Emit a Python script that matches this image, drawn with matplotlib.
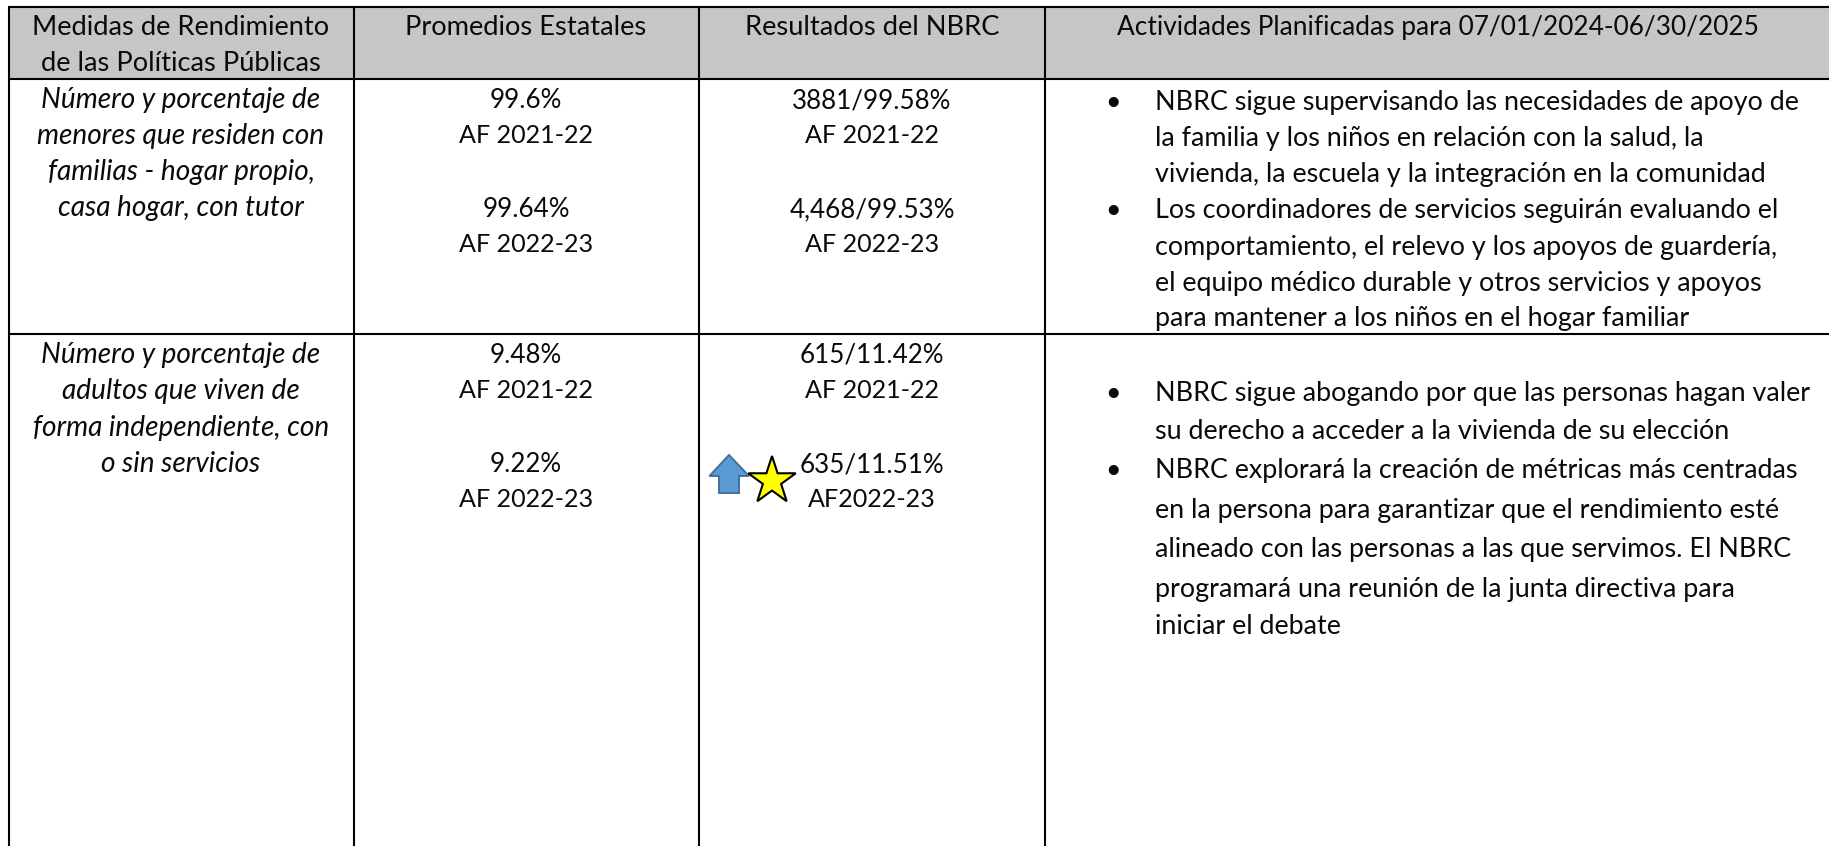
import matplotlib
matplotlib.use("Agg")
import matplotlib.pyplot as plt
from matplotlib.patches import Polygon, PathPatch, Rectangle
from matplotlib.path import Path
from matplotlib.transforms import Affine2D

W, H = 1829, 846
FONT = "Lato"
FS_HEAD = 19.6
FS_HEAD4 = 18.9
FS_ITALIC = 20.2
FS_NUM = 18.7
FS_YEAR = 18.1
FS_PLAN = 19.4

headers = [["Medidas de Rendimiento", "de las Políticas Públicas"],
           ["Promedios Estatales"], ["Resultados del NBRC"],
           ["Actividades Planificadas para 07/01/2024-06/30/2025"]]
measure_1 = ["Número y porcentaje de", "menores que residen con",
             "familias - hogar propio,", "casa hogar, con tutor"]
measure_2 = ["Número y porcentaje de", "adultos que viven de",
             "forma independiente, con", "o sin servicios"]
state_1 = ["99.6%", "AF 2021-22", "", "99.64%", "AF 2022-23"]
state_2 = ["9.48%", "AF 2021-22", "", "9.22%", "AF 2022-23"]
nbrc_1 = ["3881/99.58%", "AF 2021-22", "", "4,468/99.53%", "AF 2022-23"]
nbrc_2 = ["615/11.42%", "AF 2021-22", "", "635/11.51%", "AF2022-23"]
plan_1 = [("•", "NBRC sigue supervisando las necesidades de apoyo de"),
          ("", "la familia y los niños en relación con la salud, la"),
          ("", "vivienda, la escuela y la integración en la comunidad"),
          ("•", "Los coordinadores de servicios seguirán evaluando el"),
          ("", "comportamiento, el relevo y los apoyos de guardería,"),
          ("", "el equipo médico durable y otros servicios y apoyos"),
          ("", "para mantener a los niños en el hogar familiar")]
plan_2 = [("•", "NBRC sigue abogando por que las personas hagan valer"),
          ("", "su derecho a acceder a la vivienda de su elección"),
          ("•", "NBRC explorará la creación de métricas más centradas"),
          ("", "en la persona para garantizar que el rendimiento esté"),
          ("", "alineado con las personas a las que servimos. El NBRC"),
          ("", "programará una reunión de la junta directiva para"),
          ("", "iniciar el debate")]

fig = plt.figure(figsize=(W / 100, H / 100), dpi=100, facecolor="white")
ax = fig.add_axes([0, 0, 1, 1])
ax.set_xlim(0, W)
ax.set_ylim(H, 0)
ax.axis("off")

col_x = [9, 354, 699, 1045]
col_c = [181, 526, 872, 1438]
row_y = [7.5, 79.5, 334.5]
ax.add_patch(Rectangle((col_x[0], row_y[0]), W - col_x[0], row_y[1] - row_y[0],
                       facecolor="#C6C6C6", edgecolor="none", zorder=0))
for y in row_y:
    ax.plot([col_x[0] - 1, W], [y, y], color="black", lw=1.5, solid_capstyle="butt", zorder=1)
for x in col_x:
    ax.plot([x, x], [row_y[0], H], color="black", lw=1.5, solid_capstyle="butt", zorder=1)


def put(lines, x, ys, fs, ha="center", style="normal"):
    for s, y in zip(lines, ys):
        if s:
            ax.text(x, y, s, ha=ha, va="baseline", fontsize=fs, family=FONT,
                    style=style, color="#0A0A0A", zorder=3)


def put_cell(lines, x, ys):
    for s, y in zip(lines, ys):
        fs = FS_YEAR if s.startswith("AF") else FS_NUM
        put([s], x, [y], fs)


put(headers[0], col_c[0], [35, 71], FS_HEAD)
for i in (1, 2):
    put(headers[i], col_c[i], [35], FS_HEAD)
put(headers[3], col_c[3], [35], FS_HEAD4)

put(measure_1, col_c[0], [108, 144, 180, 216], FS_ITALIC, style="italic")
put(measure_2, col_c[0], [363, 399, 436, 472], FS_ITALIC, style="italic")
y5a = [108, 143, 180, 217, 252]
y5b = [363, 398, 435, 472, 507]
put_cell(state_1, col_c[1], y5a)
put_cell(nbrc_1, col_c[2], y5a)
put_cell(state_2, col_c[1], y5b)
put_cell(nbrc_2, col_c[2], y5b)

bullet_x, text_x = 1113, 1155
for plan, ys in ((plan_1, [110, 146, 182, 218, 255, 291, 326]),
                 (plan_2, [401, 439, 478, 518, 557, 597, 634])):
    put([b for b, _ in plan], bullet_x, ys, FS_PLAN)
    put([t for _, t in plan], text_x, ys, FS_PLAN, ha="left")

# Up arrow
arrow_pts = [(729, 455), (749, 476), (739, 476), (739, 493), (719, 493), (719, 476), (709.5, 476)]
ax.add_patch(Polygon(arrow_pts, closed=True, facecolor="#5B9BD5", edgecolor="#41719C",
                     lw=1.4, zorder=4))
# Star
star = Path.unit_regular_star(5, 0.382).transformed(Affine2D().scale(25, -25).translate(772, 481))
ax.add_patch(PathPatch(star, facecolor="#FFFF00", edgecolor="black", lw=1.5, zorder=5))

fig.savefig("out.png", dpi=100)
